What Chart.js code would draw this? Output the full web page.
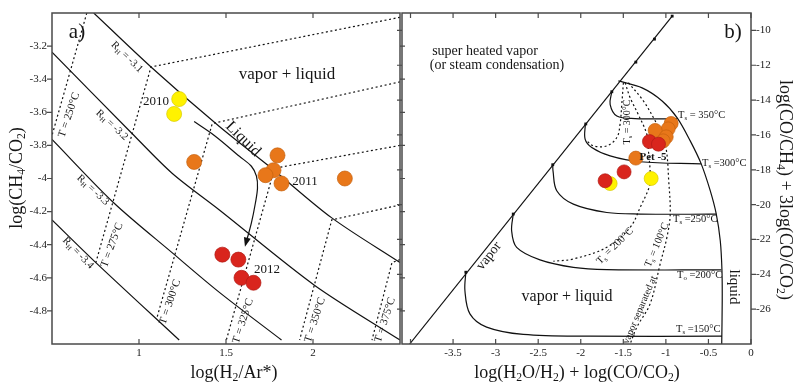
<!DOCTYPE html>
<html><head><meta charset="utf-8">
<script src="https://cdn.jsdelivr.net/npm/chart.js@4.4.1/dist/chart.umd.min.js"></script>
<style>
html,body{margin:0;padding:0;background:#fff;width:801px;height:386px;overflow:hidden;position:relative}
canvas{position:absolute;top:0}
#ca{left:0;width:410px;height:386px}
#cb{left:390px;width:411px;height:386px}
</style></head><body>
<canvas id="ca" width="410" height="386"></canvas>
<canvas id="cb" width="411" height="386"></canvas>
<script>
// ---------------- Panel a data: log(H2/Ar*) vs log(CH4/CO2) ----------------
const aXTicks = [1, 1.5, 2];
const aYTicks = [-3.2, -3.4, -3.6, -3.8, -4, -4.2, -4.4, -4.6, -4.8];
const aYellow2010 = [[1.231,-3.52],[1.202,-3.61]];
const aOrange2011 = [[1.317,-3.90],[1.796,-3.86],[1.773,-3.95],[1.727,-3.98],[1.819,-4.03],[2.183,-4.00]];
const aRed2012 = [[1.479,-4.46],[1.571,-4.49],[1.589,-4.60],[1.658,-4.63]];
const rhM31 = [[0.740,-3.0],[1.069,-3.326],[1.462,-3.686],[1.762,-3.938],[2.108,-4.238],[2.5,-4.508]];
const rhM32 = [[0.5,-3.236],[0.96,-3.728],[1.19,-3.968],[1.462,-4.19],[2.01,-4.646],[2.5,-4.976]];
const rhM33 = [[0.5,-3.764],[0.856,-4.148],[1.19,-4.448],[1.462,-4.688],[1.819,-4.976]];
const rhM34 = [[0.5,-4.25],[0.752,-4.508],[1.231,-4.976]];
const t250 = [[0.70,-3.0],[0.5,-3.74]];
const t275 = [[2.5,-3.026],[1.069,-3.326],[0.752,-4.508]];
const t300 = [[2.5,-3.416],[1.421,-3.668],[1.104,-4.838]];
const t325 = [[2.5,-3.80],[1.779,-3.938],[1.502,-4.976]];
const t350 = [[2.5,-4.16],[2.108,-4.25],[1.923,-4.976]];
const t375 = [[2.5,-4.49],[2.454,-4.508],[2.339,-4.976]];
const liquidPath = [[1.317,-3.656],[1.433,-3.74],[1.577,-3.866],[1.646,-3.926],[1.675,-3.986],[1.681,-4.058],[1.669,-4.148],[1.646,-4.268],[1.612,-4.40]];

// ---------------- Panel b data ----------------
const bXTicks = [-4, -3.5, -3, -2.5, -2, -1.5, -1, -0.5, 0];
const bXTickLabels = ['', '-3.5', '-3', '-2.5', '-2', '-1.5', '-1', '-0.5', '0'];
const bYTicks = [-10, -12, -14, -16, -18, -20, -22, -24, -26];
const bYellow = [[-1.655,-18.79],[-1.173,-18.50]];
const bOrange = [[-0.938,-15.34],[-0.973,-15.65],[-1.126,-15.74],[-0.996,-16.11],[-1.032,-16.34],[-1.353,-17.33]];
const bRed = [[-1.193,-16.38],[-1.087,-16.53],[-1.491,-18.12],[-1.714,-18.63]];
const vaporLine = [[-4.01,-28.0],[-0.926,-9.18]];
const vaporMarks = [[-3.35,-23.88],[-2.793,-20.54],[-2.329,-17.71],[-1.941,-15.37],[-1.635,-13.52],[-1.353,-11.82],[-1.134,-10.50],[-0.926,-9.18]];
const liquidB = [[-1.558,-12.90],[-1.279,-13.30],[-1.044,-14.05],[-0.867,-15.02],[-0.714,-16.34],[-0.585,-17.66],[-0.479,-19.20],[-0.409,-20.52],[-0.361,-22.07],[-0.341,-23.79],[-0.338,-25.51],[-0.344,-28.0]];
const ts350 = [[-1.635,-13.52],[-1.655,-14.24],[-1.576,-14.91],[-1.361,-15.06],[-0.867,-15.08]];
const ts300 = [[-1.946,-15.38],[-1.949,-16.24],[-1.871,-16.72],[-1.655,-17.20],[-1.302,-17.54],[-0.585,-17.66]];
const ts250 = [[-2.329,-17.71],[-2.326,-18.06],[-2.282,-19.20],[-2.087,-19.97],[-1.694,-20.45],[-1.302,-20.54],[-0.409,-20.55]];
const ts200 = [[-2.793,-20.54],[-2.812,-21.50],[-2.753,-22.45],[-2.479,-23.17],[-2.087,-23.60],[-1.694,-23.73],[-0.349,-23.75]];
const ts150 = [[-3.35,-23.88],[-3.361,-24.93],[-3.302,-26.27],[-3.106,-27.03],[-2.675,-27.45],[-1.891,-27.55],[-0.341,-27.55]];
const sep300 = [[-1.499,-13.00],[-1.518,-14.24],[-1.538,-15.38],[-1.576,-16.15],[-1.694,-16.63],[-1.852,-16.63],[-1.929,-16.34]];
const sep200 = [[-1.479,-13.00],[-1.42,-13.86],[-1.326,-14.81],[-1.224,-15.96],[-1.205,-16.91],[-1.185,-18.06],[-1.185,-18.82],[-1.302,-20.16],[-1.42,-21.31],[-1.694,-22.45],[-2.087,-23.12],[-2.322,-23.25]];
const sep100 = [[-1.44,-13.00],[-1.264,-14.05],[-1.126,-15.19],[-1.028,-16.15],[-0.988,-17.10],[-0.969,-18.44],[-0.949,-20.54],[-0.988,-21.88],[-1.067,-23.40],[-1.185,-25.69],[-1.341,-27.03],[-1.42,-28.0]];

// ---------------- styles & helpers ----------------
const FONT = "'Liberation Serif','Times New Roman',serif";
const YELLOW = '#fff200', ORANGE = '#e8771a', RED = '#d9251d';
const toXY = a => a.map(p => ({x: p[0], y: p[1]}));
function pts(arr, color, edge, r) {
  return {data: toXY(arr), showLine: false, pointRadius: r, pointHoverRadius: r,
    backgroundColor: color, borderColor: edge, borderWidth: 0.7};
}
function curve(arr, dashed, tension) {
  return {data: toXY(arr), showLine: true, pointRadius: 0, pointHoverRadius: 0,
    borderColor: '#111', borderWidth: 1.2, tension: tension || 0,
    borderDash: dashed ? [2, 2.6] : [], fill: false};
}
function richText(ctx, str, x, y, o) {
  const size = o.size || 12, bold = o.bold ? 'bold ' : '';
  const segs = []; let i = 0;
  while (i < str.length) {
    if (str[i] === '_') { segs.push({t: str[i+1], sub: true}); i += 2; }
    else { let j = i; while (j < str.length && str[j] !== '_') j++; segs.push({t: str.slice(i, j), sub: false}); i = j; }
  }
  ctx.save();
  ctx.translate(x, y);
  ctx.rotate((o.angle || 0) * Math.PI / 180);
  let total = 0;
  segs.forEach(s => { ctx.font = bold + (s.sub ? size * 0.65 : size) + 'px ' + FONT; s.w = ctx.measureText(s.t).width; total += s.w; });
  let cx = o.align === 'left' ? 0 : (o.align === 'right' ? -total : -total / 2);
  ctx.fillStyle = o.color || '#161616';
  ctx.textBaseline = 'middle'; ctx.textAlign = 'left';
  segs.forEach(s => { ctx.font = bold + (s.sub ? size * 0.65 : size) + 'px ' + FONT; ctx.fillText(s.t, cx, s.sub ? size * 0.3 : 0); cx += s.w; });
  ctx.restore();
}
const framePlugin = {
  id: 'frame',
  afterDraw(chart, args, o) {
    const {ctx, chartArea: a, scales} = chart;
    ctx.save();
    ctx.strokeStyle = '#4a4a4a'; ctx.lineWidth = 1.5;
    ctx.strokeRect(a.left, a.top, a.right - a.left, a.bottom - a.top);
    ctx.lineWidth = 1.2;
    ctx.beginPath();
    o.xTicks.forEach(v => { const p = scales.x.getPixelForValue(v);
      ctx.moveTo(p, a.bottom); ctx.lineTo(p, a.bottom - 5); ctx.moveTo(p, a.top); ctx.lineTo(p, a.top + 5); });
    o.yTicks.forEach(v => { const p = scales.y.getPixelForValue(v);
      ctx.moveTo(a.left - 5, p); ctx.lineTo(a.left, p); ctx.moveTo(a.right, p); ctx.lineTo(a.right + 5, p); });
    ctx.stroke();
    ctx.restore();
  }
};
const labelPlugin = {
  id: 'labels',
  afterDatasetsDraw(chart, args, o) {
    const ctx = chart.ctx;
    if (o.arrowDataset != null) {
      const els = chart.getDatasetMeta(o.arrowDataset).data;
      const p1 = els[els.length - 2], p2 = els[els.length - 1];
      const ang = Math.atan2(p2.y - p1.y, p2.x - p1.x);
      ctx.save(); ctx.translate(p2.x, p2.y); ctx.rotate(ang);
      ctx.fillStyle = '#111'; ctx.beginPath();
      ctx.moveTo(2, 0); ctx.lineTo(-7, -3.5); ctx.lineTo(-7, 3.5); ctx.closePath(); ctx.fill();
      ctx.restore();
    }
    o.items.forEach(it => richText(ctx, it.t, it.x - (o.offset || 0), it.y, it));
  }
};
const tickFont = {family: FONT, size: 11};
function baseOptions(xr, yr, xT, yT, xLab, yPos, pad, yWidth) {
  return {
    responsive: false, animation: false, devicePixelRatio: 1,
    layout: {padding: pad},
    plugins: {legend: {display: false}, tooltip: {enabled: false}},
    scales: {
      x: {type: 'linear', min: xr[0], max: xr[1],
        afterFit(s) { s.height = 42; },
        afterBuildTicks(s) { s.ticks = xT.map(v => ({value: v})); },
        grid: {display: false, drawTicks: false}, border: {display: false},
        ticks: {font: tickFont, color: '#222', padding: 3, maxRotation: 0, autoSkip: false,
          callback: (v, i) => xLab ? xLab[i] : String(v)}},
      y: {type: 'linear', min: yr[0], max: yr[1], position: yPos,
        afterFit(s) { s.width = yWidth; },
        afterBuildTicks(s) { s.ticks = yT.map(v => ({value: v})); },
        grid: {display: false, drawTicks: false}, border: {display: false},
        ticks: {font: tickFont, color: '#222', padding: 5, autoSkip: false, callback: v => String(v)}}
    }
  };
}

// ---------------- Chart a ----------------
const optA = baseOptions([0.5, 2.5], [-5, -3], aXTicks, aYTicks, null, 'left', {top: 13, right: 10, left: 0, bottom: 0}, 52);
optA.plugins.frame = {xTicks: aXTicks, yTicks: aYTicks};
optA.plugins.labels = {arrowDataset: 3, items: [
  {t: 'a)', x: 77, y: 32, size: 21},
  {t: 'vapor + liquid', x: 287, y: 75, size: 17},
  {t: '2010', x: 156, y: 102, size: 13},
  {t: '2011', x: 305, y: 182, size: 13},
  {t: '2012', x: 267, y: 270, size: 13},
  {t: 'Liquid', x: 243, y: 139, size: 16, angle: 45},
  {t: 'R_H = -3.1', x: 127, y: 57, size: 10.5, angle: 44},
  {t: 'R_H = -3.2', x: 112, y: 125, size: 10.5, angle: 43},
  {t: 'R_H = -3.3', x: 93, y: 190, size: 10.5, angle: 43},
  {t: 'R_H = -3.4', x: 78, y: 253, size: 10.5, angle: 46},
  {t: 'T = 250°C', x: 69, y: 115, size: 11, angle: -71},
  {t: 'T = 275°C', x: 112, y: 245, size: 11, angle: -70},
  {t: 'T = 300°C', x: 170, y: 302, size: 11, angle: -71},
  {t: 'T = 325°C', x: 243, y: 321, size: 11, angle: -72},
  {t: 'T = 350°C', x: 315, y: 320, size: 11, angle: -72},
  {t: 'T = 375°C', x: 385, y: 320, size: 11, angle: -72},
  {t: 'log(CH_4/CO_2)', x: 17, y: 178, size: 18, angle: -90},
  {t: 'log(H_2/Ar*)', x: 234, y: 373, size: 18}
]};
new Chart(document.getElementById('ca'), {
  type: 'scatter',
  data: {datasets: [
    pts(aRed2012, RED, '#b01a14', 7.5),
    pts(aOrange2011, ORANGE, '#c5620f', 7.5),
    pts(aYellow2010, YELLOW, '#d8cc00', 7.5),
    curve(liquidPath, false, 0.35),
    curve(rhM31, false, 0.3), curve(rhM32, false, 0.3), curve(rhM33, false, 0.3), curve(rhM34, false, 0.3),
    curve(t250, true), curve(t275, true), curve(t300, true), curve(t325, true), curve(t350, true), curve(t375, true)
  ]},
  options: optA,
  plugins: [framePlugin, labelPlugin]
});

// ---------------- Chart b ----------------
const optB = baseOptions([-4.1, 0], [-28, -9], bXTicks, bYTicks, bXTickLabels, 'right', {top: 13, right: 0, left: 12, bottom: 0}, 50);
optB.plugins.frame = {xTicks: bXTicks, yTicks: bYTicks};
optB.plugins.labels = {offset: 390, items: [
  {t: 'b)', x: 733, y: 32, size: 21},
  {t: 'super heated vapor', x: 485, y: 51, size: 14},
  {t: '(or steam condensation)', x: 497, y: 65, size: 14},
  {t: 'vapor + liquid', x: 567, y: 297, size: 16},
  {t: 'vapor', x: 489, y: 256, size: 14, angle: -52},
  {t: 'liquid', x: 734, y: 287, size: 15, angle: 90},
  {t: 'T_s = 350°C', x: 678, y: 115, size: 10.5, align: 'left'},
  {t: 'T_s =300°C', x: 702, y: 163, size: 10.5, align: 'left'},
  {t: 'T_s =250°C', x: 673, y: 219, size: 10.5, align: 'left'},
  {t: 'T_o =200°C', x: 677, y: 275, size: 10.5, align: 'left'},
  {t: 'T_s =150°C', x: 676, y: 329, size: 10.5, align: 'left'},
  {t: 'T_s = 300°C', x: 627, y: 122, size: 10, angle: -90},
  {t: 'T_s = 200°C', x: 615, y: 246, size: 10.5, angle: -45},
  {t: 'T_s = 100°C', x: 657, y: 245, size: 10.5, angle: -67},
  {t: 'vapor separated at', x: 640, y: 310, size: 10, angle: -67},
  {t: 'Pet -5', x: 653, y: 157, size: 11, bold: true},
  {t: 'log(H_2O/H_2) + log(CO/CO_2)', x: 577, y: 373, size: 18},
  {t: 'log(CO/CH_4) + 3log(CO/CO_2)', x: 785, y: 190, size: 18, angle: 90}
]};
new Chart(document.getElementById('cb'), {
  type: 'scatter',
  data: {datasets: [
    pts(bRed, RED, '#b01a14', 7),
    pts(bOrange, ORANGE, '#c5620f', 7),
    pts(bYellow, YELLOW, '#d8cc00', 7),
    {data: toXY(vaporMarks), showLine: false, pointStyle: 'rect', pointRadius: 2, backgroundColor: '#111', borderColor: '#111', borderWidth: 0},
    curve(vaporLine, false),
    curve(liquidB, false, 0.3),
    curve(ts350, false, 0.35), curve(ts300, false, 0.35), curve(ts250, false, 0.35), curve(ts200, false, 0.35), curve(ts150, false, 0.35),
    curve(sep300, true, 0.35), curve(sep200, true, 0.35), curve(sep100, true, 0.35)
  ]},
  options: optB,
  plugins: [framePlugin, labelPlugin]
});
</script></body></html>
